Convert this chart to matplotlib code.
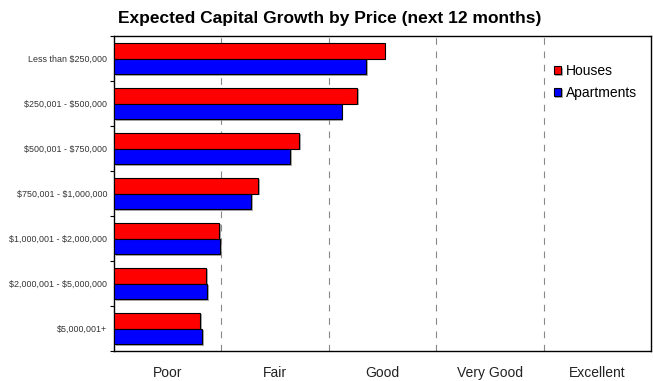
import matplotlib
matplotlib.use("Agg")
import matplotlib.pyplot as plt
import matplotlib.patheffects as pe
import numpy as np

plt.rcParams['font.family'] = ['Liberation Sans', 'DejaVu Sans']
plt.rcParams['text.parse_math'] = False

price_bands = [
    "Less than $250,000",
    "$250,001 - $500,000",
    "$500,001 - $750,000",
    "$750,001 - $1,000,000",
    "$1,000,001 - $2,000,000",
    "$2,000,001 - $5,000,000",
    "$5,000,001+",
]
houses = [2.52, 2.265, 1.725, 1.34, 0.98, 0.86, 0.805]
apartments = [2.35, 2.12, 1.64, 1.275, 0.99, 0.87, 0.82]
ratings = ["Poor", "Fair", "Good", "Very Good", "Excellent"]

fig = plt.figure(figsize=(6.53, 3.81), dpi=100)
ax = fig.add_axes([0.1746, 0.0787, 0.8224, 0.8268])

y = np.arange(len(price_bands))
h = 0.355
shadow = [pe.SimplePatchShadow(offset=(1.2, -1.2), shadow_rgbFace='#888888', alpha=0.7), pe.Normal()]
ax.barh(y - h / 2, houses, height=h, color='#ff0000', edgecolor='black',
        linewidth=0.8, label='Houses', path_effects=shadow, zorder=3)
ax.barh(y + h / 2, apartments, height=h, color='#0000ff', edgecolor='black',
        linewidth=0.8, label='Apartments', path_effects=shadow, zorder=3)

ax.set_xlim(0, 5)
ax.set_ylim(len(price_bands) - 0.5, -0.5)

# rating labels centred in each band, dashed separators between bands
ax.set_xticks(np.arange(len(ratings)) + 0.5)
ax.set_xticklabels(ratings, fontsize=10, color='#222222')
ax.tick_params(axis='x', which='major', length=0, pad=11)
ax.set_xticks(np.arange(1, len(ratings)), minor=True)
ax.tick_params(axis='x', which='minor', length=0)
ax.grid(axis='x', which='minor', color='#888888', linestyle=(0, (6, 6)), linewidth=0.8, zorder=0)

# category labels centred, ticks on the boundaries
ax.set_yticks(np.arange(len(price_bands) + 1) - 0.5)
ax.set_yticklabels([])
ax.tick_params(axis='y', which='major', length=3, width=0.8)
ax.set_yticks(y, minor=True)
ax.set_yticklabels(price_bands, minor=True, fontsize=6.4, color='#333333')
ax.tick_params(axis='y', which='minor', length=0, pad=5)

for s in ax.spines.values():
    s.set_linewidth(1.0)
    s.set_color('black')

ax.legend(loc='upper right', bbox_to_anchor=(1.0, 0.955), frameon=False, fontsize=10,
          handlelength=0.55, handleheight=0.55, handletextpad=0.35, labelspacing=0.55,
          borderaxespad=0.6)

fig.suptitle("Expected Capital Growth by Price (next 12 months)", x=0.505, y=0.972,
             fontsize=12.5, fontweight='bold')

fig.savefig("out.png", dpi=100)
